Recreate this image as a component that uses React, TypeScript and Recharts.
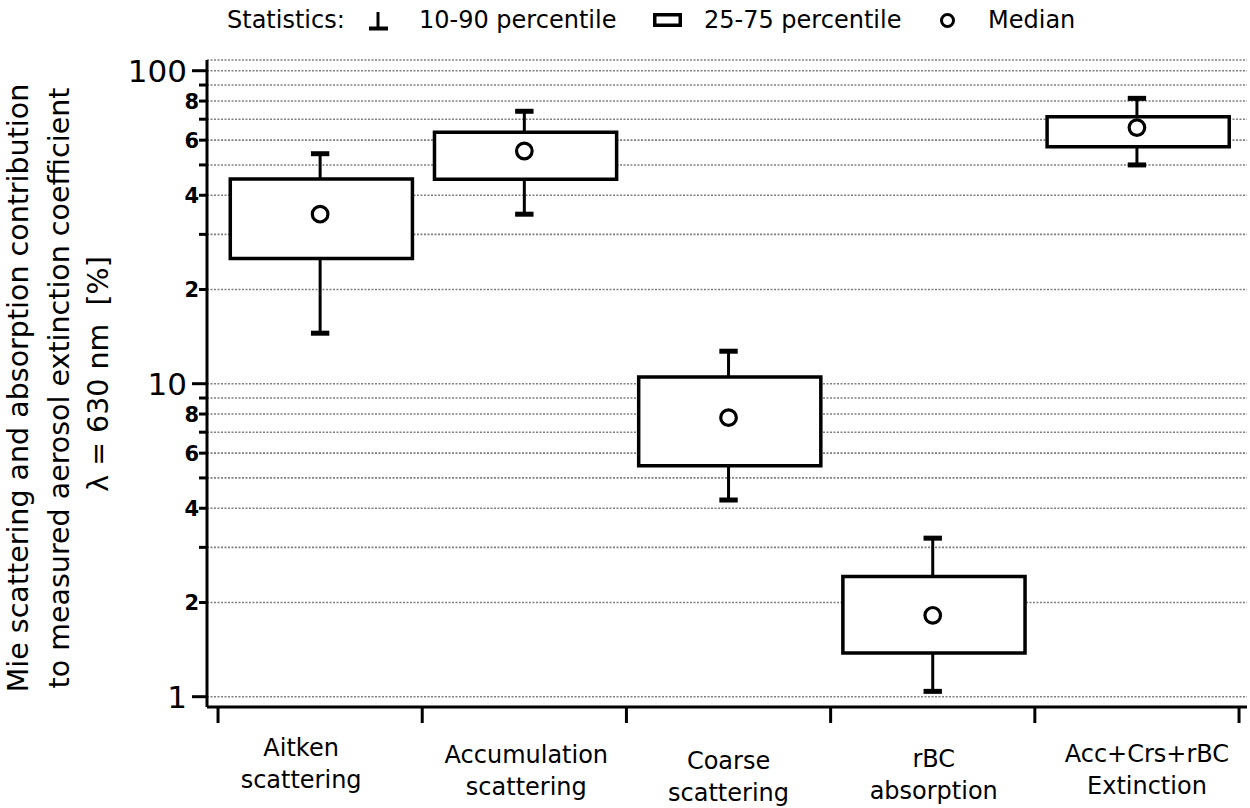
import {
  ComposedChart,
  XAxis,
  YAxis,
  CartesianGrid,
  ReferenceArea,
  ReferenceLine,
  Scatter,
} from 'recharts'

// category labels (two lines each)
const categories = [
  ['Aitken', 'scattering'],
  ['Accumulation', 'scattering'],
  ['Coarse', 'scattering'],
  ['rBC', 'absorption'],
  ['Acc+Crs+rBC', 'Extinction'],
]

// statistics per category, in %
const p10 = [14.5, 34.8, 4.25, 1.04, 50.0]
const q1 = [25.1, 45.0, 5.47, 1.38, 57.2]
const median = [34.8, 55.4, 7.79, 1.82, 65.8]
const q3 = [45.1, 63.6, 10.5, 2.42, 71.3]
const p90 = [54.3, 74.2, 12.7, 3.21, 81.6]

const yTicks = [1, 2, 3, 4, 5, 6, 7, 8, 9, 10, 20, 30, 40, 50, 60, 70, 80, 90, 100]
const yTickLabels: Record<number, string> = {
  1: '1', 2: '2', 4: '4', 6: '6', 8: '8',
  10: '10', 20: '2', 40: '4', 60: '6', 80: '8', 100: '100',
}
const xTicks = [0, 0.5, 1, 1.5, 2, 2.5, 3, 3.5, 4, 4.5, 5]

// label placement tweaks (px), layout only
const labelDx = [-19, 2, 0, 1, 10]
const labelDy = [49, 56, 62, 60, 55]

const FONT = 'DejaVu Sans'
const X_DOMAIN: [number, number] = [-0.054, 5.039]
const Y_DOMAIN: [number, number] = [0.927, 108.2]

const medianPoints = median.map((m, i) => ({ x: i + 0.5, y: m }))

function XTick({ x, y, payload }: any) {
  const v = payload.value
  if (Number.isInteger(v)) {
    return <line x1={x} x2={x} y1={y} y2={y + 16} stroke="#000" strokeWidth={3} />
  }
  const i = Math.floor(v)
  const [l1, l2] = categories[i]
  return (
    <g fontFamily={FONT} fontSize={24} fill="#000">
      <text x={x + labelDx[i]} y={y + labelDy[i]} textAnchor="middle">{l1}</text>
      <text x={x + labelDx[i]} y={y + labelDy[i] + 32} textAnchor="middle">{l2}</text>
    </g>
  )
}

function YTick({ x, y, payload }: any) {
  const v = payload.value
  const major = v === 1 || v === 10 || v === 100
  const label = yTickLabels[v]
  return (
    <g>
      <line x1={x - (major ? 15 : 8)} x2={x} y1={y} y2={y} stroke="#000" strokeWidth={3} />
      {label && (
        <text
          x={major ? x - 20 : x - 8}
          y={y}
          dy="0.36em"
          textAnchor="end"
          fontFamily={FONT}
          fontSize={major ? 31 : 21}
          fontWeight={major ? 'normal' : 'bold'}
          fill="#000"
        >
          {label}
        </text>
      )}
    </g>
  )
}

export default function App() {
  return (
    <div style={{ position: 'absolute', left: 0, top: 0, width: 1250, height: 808, background: '#fff' }}>
      <ComposedChart width={1250} height={808} margin={{ top: 60, right: 3, bottom: 0, left: 127 }}>
        <CartesianGrid
          horizontal
          vertical={false}
          stroke="#808080"
          strokeWidth={1.6}
          strokeDasharray="2 1.5"
        />
        <XAxis
          dataKey="x"
          type="number"
          domain={X_DOMAIN}
          allowDataOverflow
          ticks={xTicks}
          interval={0}
          height={101}
          tickSize={0}
          tickMargin={0}
          tickLine={false}
          axisLine={{ stroke: '#000', strokeWidth: 3 }}
          tick={<XTick />}
        />
        <XAxis
          xAxisId="top"
          orientation="top"
          type="number"
          domain={[0, 1]}
          height={0}
          tick={false}
          tickLine={false}
          axisLine={{ stroke: '#000', strokeWidth: 3 }}
        />
        <YAxis
          dataKey="y"
          type="number"
          scale="log"
          domain={Y_DOMAIN}
          allowDataOverflow
          ticks={yTicks}
          interval={0}
          width={80}
          tickSize={0}
          tickMargin={0}
          tickLine={false}
          axisLine={{ stroke: '#000', strokeWidth: 3 }}
          tick={<YTick />}
        />
        <YAxis
          yAxisId="right"
          orientation="right"
          type="number"
          domain={[0, 1]}
          width={0}
          tick={false}
          tickLine={false}
          axisLine={{ stroke: '#000', strokeWidth: 3 }}
        />

        {/* whiskers */}
        {categories.map((_, i) => (
          <ReferenceLine
            key={`wu${i}`}
            segment={[{ x: i + 0.5, y: q3[i] }, { x: i + 0.5, y: p90[i] }]}
            stroke="#000"
            strokeWidth={3}
          />
        ))}
        {categories.map((_, i) => (
          <ReferenceLine
            key={`wl${i}`}
            segment={[{ x: i + 0.5, y: p10[i] }, { x: i + 0.5, y: q1[i] }]}
            stroke="#000"
            strokeWidth={3}
          />
        ))}
        {categories.map((_, i) => (
          <ReferenceLine
            key={`cu${i}`}
            segment={[{ x: i + 0.455, y: p90[i] }, { x: i + 0.545, y: p90[i] }]}
            stroke="#000"
            strokeWidth={5}
          />
        ))}
        {categories.map((_, i) => (
          <ReferenceLine
            key={`cl${i}`}
            segment={[{ x: i + 0.455, y: p10[i] }, { x: i + 0.545, y: p10[i] }]}
            stroke="#000"
            strokeWidth={5}
          />
        ))}

        {/* 25-75 boxes */}
        {categories.map((_, i) => (
          <ReferenceArea
            key={`b${i}`}
            x1={i + 0.06}
            x2={i + 0.952}
            y1={q1[i]}
            y2={q3[i]}
            fill="#fff"
            fillOpacity={1}
            stroke="#000"
            strokeWidth={3.5}
          />
        ))}

        <Scatter
          data={medianPoints}
          dataKey="y"
          isAnimationActive={false}
          shape={(p: any) => (
            <circle cx={p.cx} cy={p.cy} r={7.8} fill="#fff" stroke="#000" strokeWidth={3.2} />
          )}
        />
      </ComposedChart>

      {/* legend and y title */}
      <svg
        width={1250}
        height={808}
        style={{ position: 'absolute', left: 0, top: 0, pointerEvents: 'none' }}
      >
        <g fontFamily={FONT} fontSize={24} fill="#000">
          <text x={227} y={28}>Statistics:</text>
          <line x1={378} x2={378} y1={12} y2={28} stroke="#000" strokeWidth={3} />
          <line x1={369} x2={388} y1={28.5} y2={28.5} stroke="#000" strokeWidth={4} />
          <text x={419} y={28}>10-90 percentile</text>
          <rect x={654.75} y={14.75} width={25.5} height={10.5} fill="none" stroke="#000" strokeWidth={3.5} />
          <text x={704} y={28}>25-75 percentile</text>
          <circle cx={947.5} cy={20.5} r={6} fill="none" stroke="#000" strokeWidth={3} />
          <text x={988} y={28}>Median</text>
        </g>
        <g fontFamily={FONT} fontSize={28.5} fill="#000" textAnchor="middle">
          <text transform="translate(28,388) rotate(-90)">Mie scattering and absorption contribution</text>
          <text transform="translate(69,388) rotate(-90)">to measured aerosol extinction coefficient</text>
          <text transform="translate(108,374) rotate(-90)" style={{ whiteSpace: 'pre' }}>λ = 630 nm  [%]</text>
        </g>
      </svg>
    </div>
  )
}
